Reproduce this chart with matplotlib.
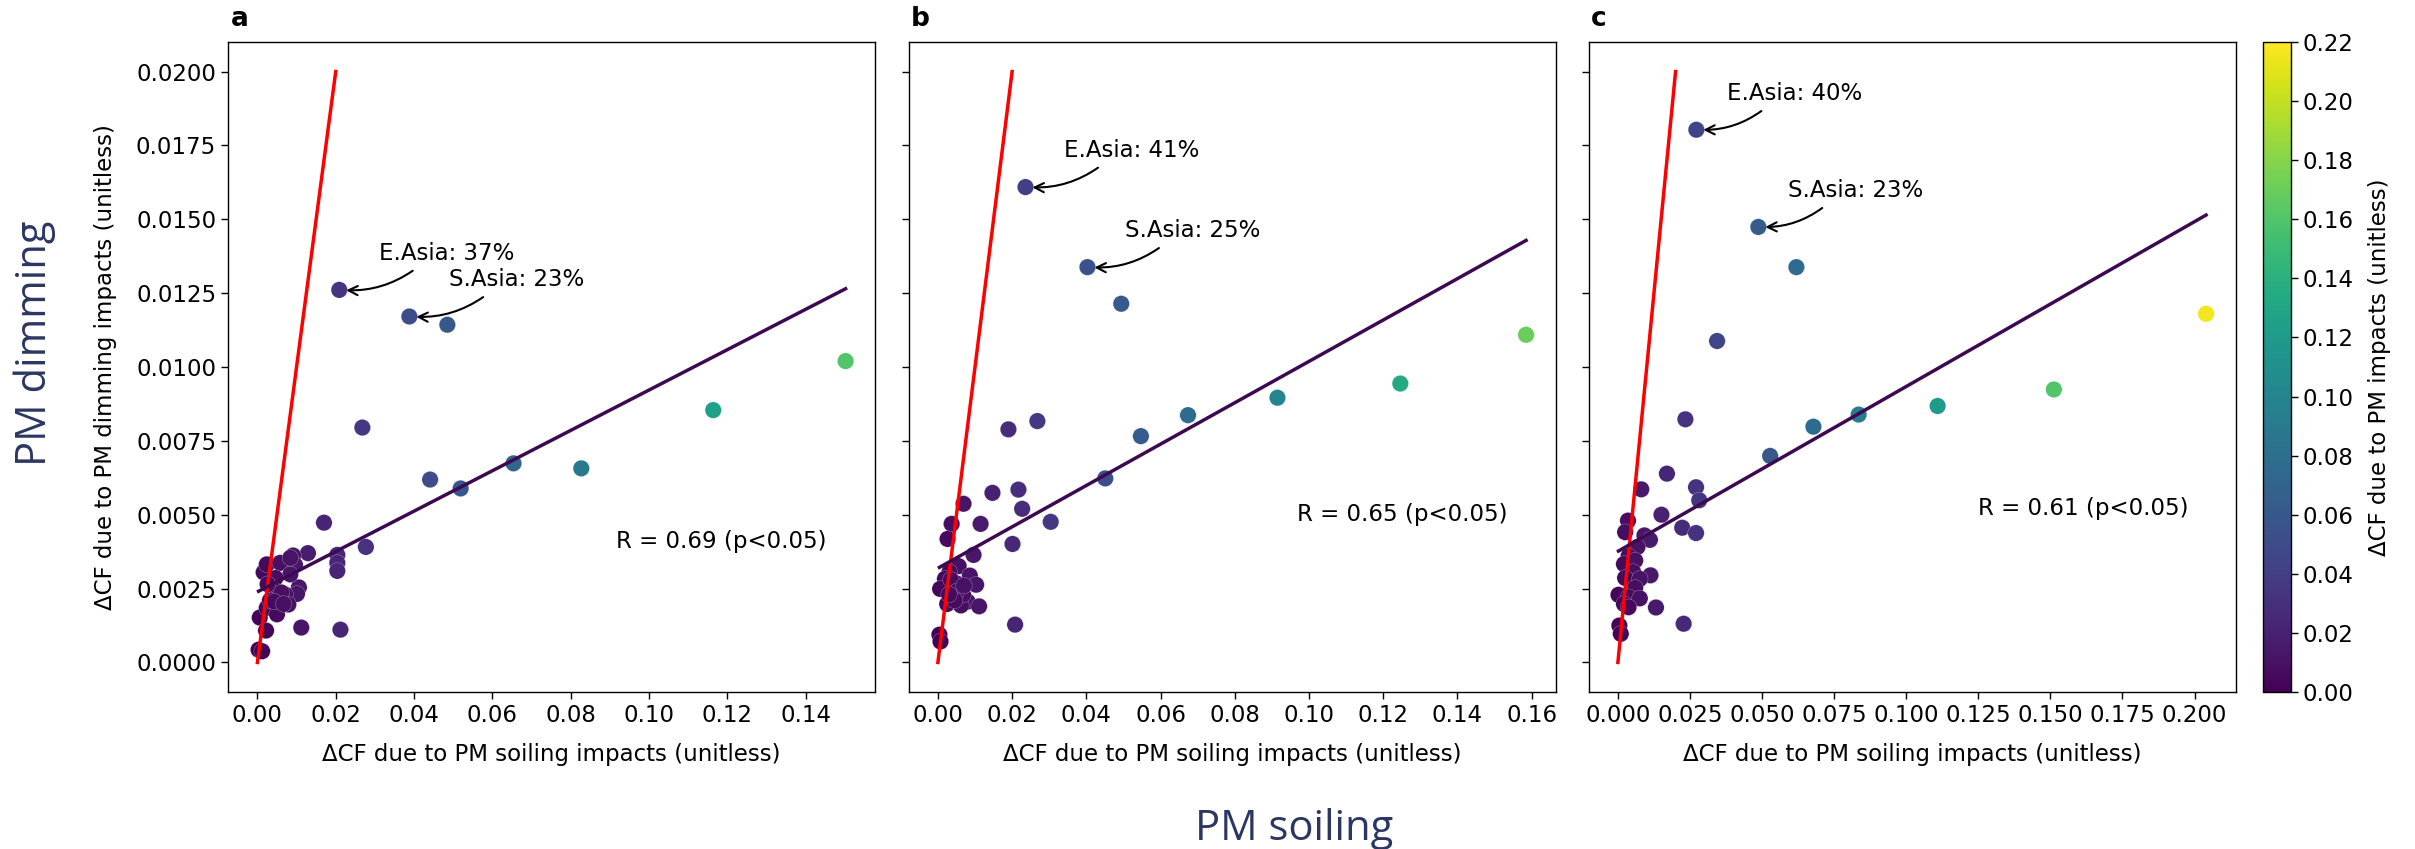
import numpy as np
import matplotlib
matplotlib.use("Agg")
import matplotlib.pyplot as plt
from matplotlib.ticker import MultipleLocator
from matplotlib.colors import Normalize
from matplotlib.cm import ScalarMappable

# ---------------- data ----------------
a_soiling = [0.0209, 0.0388, 0.0485, 0.1502, 0.1164, 0.0268, 0.0654, 0.0827, 0.0441, 0.0519,
             0.0170, 0.0277, 0.0204, 0.0204, 0.0204, 0.0129, 0.0091, 0.0096, 0.0112, 0.0212,
             0.0106, 0.0101, 0.0003, 0.0012, 0.0006, 0.0022, 0.0016, 0.0024, 0.0058, 0.0084,
             0.0084, 0.0046, 0.0037, 0.0071, 0.0050, 0.0079, 0.0024, 0.0050, 0.0032, 0.0061,
             0.0043, 0.0067, 0.0026]
a_dimming = [0.01261, 0.01171, 0.01143, 0.01020, 0.00854, 0.00795, 0.00674, 0.00657, 0.00619, 0.00589,
             0.00473, 0.00391, 0.00364, 0.00337, 0.00310, 0.00370, 0.00362, 0.00330, 0.00118, 0.00111,
             0.00254, 0.00232, 0.00043, 0.00038, 0.00152, 0.00108, 0.00305, 0.00332, 0.00337, 0.00298,
             0.00354, 0.00286, 0.00253, 0.00230, 0.00196, 0.00196, 0.00185, 0.00163, 0.00210, 0.00237,
             0.00206, 0.00198, 0.00265]

b_soiling = [0.0236, 0.0403, 0.0494, 0.1585, 0.1246, 0.0915, 0.0674, 0.0547, 0.0268, 0.0190,
             0.0451, 0.0147, 0.0217, 0.0227, 0.0304, 0.0069, 0.0115, 0.0037, 0.0026, 0.0201,
             0.0096, 0.0208, 0.0004, 0.0007, 0.0056, 0.0031, 0.0086, 0.0019, 0.0103, 0.0006,
             0.0043, 0.0080, 0.0025, 0.0062, 0.0111, 0.0049, 0.0068, 0.0035, 0.0050, 0.0070,
             0.0045, 0.0030]
b_dimming = [0.01609, 0.01338, 0.01214, 0.01109, 0.00944, 0.00896, 0.00837, 0.00766, 0.00817, 0.00789,
             0.00623, 0.00574, 0.00585, 0.00520, 0.00476, 0.00537, 0.00469, 0.00469, 0.00418, 0.00401,
             0.00364, 0.00128, 0.00094, 0.00071, 0.00326, 0.00306, 0.00294, 0.00283, 0.00263, 0.00249,
             0.00237, 0.00206, 0.00198, 0.00193, 0.00190, 0.00268, 0.00229, 0.00280, 0.00240, 0.00260,
             0.00210, 0.00230]

c_soiling = [0.0272, 0.0487, 0.0619, 0.0344, 0.2040, 0.1512, 0.1109, 0.0835, 0.0678, 0.0528,
             0.0234, 0.0170, 0.0081, 0.0271, 0.0282, 0.0151, 0.0035, 0.0025, 0.0223, 0.0271,
             0.0092, 0.0111, 0.0228, 0.0132, 0.0005, 0.0010, 0.0068, 0.0037, 0.0021, 0.0060,
             0.0053, 0.0113, 0.0025, 0.0076, 0.0060, 0.0002, 0.0037, 0.0076, 0.0021, 0.0037]
c_dimming = [0.01803, 0.01474, 0.01338, 0.01088, 0.01180, 0.00924, 0.00868, 0.00839, 0.00798, 0.00699,
             0.00823, 0.00639, 0.00586, 0.00593, 0.00549, 0.00500, 0.00480, 0.00441, 0.00456, 0.00438,
             0.00430, 0.00415, 0.00131, 0.00186, 0.00125, 0.00097, 0.00391, 0.00360, 0.00333, 0.00345,
             0.00306, 0.00295, 0.00286, 0.00283, 0.00252, 0.00229, 0.00221, 0.00217, 0.00198, 0.00187]

# regression lines (slope, intercept)
fit_slope = [0.0683, 0.0700, 0.0558]
fit_intercept = [0.00239, 0.00319, 0.00376]
r_labels = ["R = 0.69 (p<0.05)", "R = 0.65 (p<0.05)", "R = 0.61 (p<0.05)"]
east_asia_labels = ["E.Asia: 37%", "E.Asia: 41%", "E.Asia: 40%"]
south_asia_labels = ["S.Asia: 23%", "S.Asia: 25%", "S.Asia: 23%"]
panel_letters = ["a", "b", "c"]
one_to_one = [0.0, 0.02]
# -----------------------------------------------------------------

soiling = [a_soiling, b_soiling, c_soiling]
dimming = [a_dimming, b_dimming, c_dimming]

# text placements (data coords for annotations, axes fraction for R)
ea_text_pos = [(0.0310, 0.01385), (0.0340, 0.01734), (0.0379, 0.01926)]
sa_text_pos = [(0.0490, 0.01296), (0.0504, 0.01462), (0.0590, 0.01598)]
r_pos = [(0.600, 0.232), (0.600, 0.273), (0.602, 0.282)]
x_major = [0.02, 0.02, 0.025]

FS = 16.5
fig = plt.figure(figsize=(24.15, 8.49), dpi=100)
W, H = 2415.0, 849.0
ax_lefts = [228, 908.5, 1588.5]
ax_w = 647
ax_top, ax_bot = 42, 692
cmap = plt.get_cmap("viridis")
norm = Normalize(0, 0.22)

axes = []
for i in range(3):
    ax = fig.add_axes([ax_lefts[i] / W, (H - ax_bot) / H, ax_w / W, (ax_bot - ax_top) / H],
                      sharey=axes[0] if axes else None)
    axes.append(ax)
    xs = np.array(soiling[i])
    ys = np.array(dimming[i])
    total = xs + ys
    ax.plot(one_to_one, one_to_one, color="red", lw=2.5, zorder=3)
    ax.scatter(xs, ys, c=total, cmap=cmap, norm=norm, s=140, edgecolors="white",
               linewidths=0.15, zorder=2)
    xl = np.array([xs.min(), xs.max()])
    ax.plot(xl, fit_slope[i] * xl + fit_intercept[i], color="#3d0a52", lw=2.5, zorder=4)

    ea_idx = 0
    sa_idx = 1
    for lbl, pos, idx in [(east_asia_labels[i], ea_text_pos[i], ea_idx),
                          (south_asia_labels[i], sa_text_pos[i], sa_idx)]:
        ax.annotate(lbl, xy=(xs[idx], ys[idx]), xytext=pos, ha="left", va="center",
                    fontsize=FS, zorder=5,
                    arrowprops=dict(arrowstyle="->", connectionstyle="arc3,rad=-0.2",
                                    relpos=(0.31, 0.0), shrinkA=4, shrinkB=5,
                                    color="black", lw=1.5))
    ax.text(r_pos[i][0], r_pos[i][1], r_labels[i], transform=ax.transAxes,
            ha="left", va="center", fontsize=FS)
    ax.text(0.004, 1.025, panel_letters[i], transform=ax.transAxes, ha="left",
            va="baseline", fontsize=19, fontweight="bold")

    ax.xaxis.set_major_locator(MultipleLocator(x_major[i]))
    ax.yaxis.set_major_locator(MultipleLocator(0.0025))
    ax.tick_params(labelsize=FS, length=5, width=1)
    ax.set_xlabel("ΔCF due to PM soiling impacts (unitless)", fontsize=FS, labelpad=12)
    if i > 0:
        ax.tick_params(labelleft=False)
    for sp in ax.spines.values():
        sp.set_linewidth(1.0)

axes[0].set_ylabel("ΔCF due to PM dimming impacts (unitless)", fontsize=FS, labelpad=14)
for ax in axes:
    ax.margins(0.05)
    ax.autoscale_view()

cax = fig.add_axes([2263 / W, (H - ax_bot) / H, 28 / W, (ax_bot - ax_top) / H])
cb = fig.colorbar(ScalarMappable(norm=norm, cmap=cmap), cax=cax)
cb.set_ticks(np.arange(0, 0.2201, 0.02))
cb.ax.tick_params(labelsize=FS, length=5, width=1)
cb.set_label("ΔCF due to PM impacts (unitless)", fontsize=FS, labelpad=10)
cb.outline.set_linewidth(1.0)

big_color = "#2b3762"
fig.text(35 / W, (H - 343) / H, "PM dimming", rotation=90, ha="center", va="center",
         fontsize=30, color=big_color, family=["Open Sans", "DejaVu Sans"])
fig.text(1294 / W, (H - 829) / H, "PM soiling", ha="center", va="center",
         fontsize=30, color=big_color, family=["Open Sans", "DejaVu Sans"])

fig.savefig("out.png", dpi=100)
